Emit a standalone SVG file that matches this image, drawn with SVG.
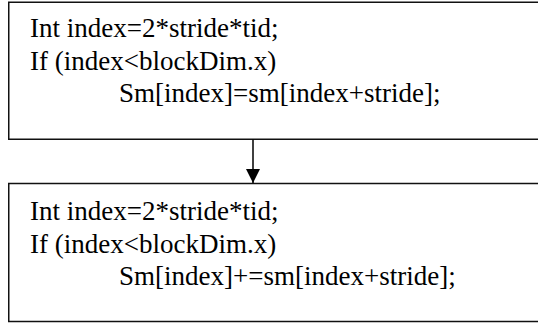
<svg xmlns="http://www.w3.org/2000/svg" width="538" height="324" viewBox="0 0 538 324">
<style>
.box{fill:#fff;stroke:#111;stroke-width:1.5}
.t{font-family:'Liberation Serif','Times New Roman',serif;font-size:27px;fill:#000}
.c{stroke:#000;stroke-width:1.5;fill:none}
</style>
<defs>
<marker id="ah" markerUnits="userSpaceOnUse" markerWidth="14" markerHeight="16" refX="14" refY="7" orient="auto">
<path d="M0,0 L14,7 L0,14 Z" fill="#000"/>
</marker>
</defs>
<rect width="538" height="324" fill="#fff"/>
<g id="node1">
<rect class="box" x="8.75" y="2.25" width="540" height="137"/>
<text class="t" x="30" y="37">Int index=2*stride*tid;</text>
<text class="t" x="30" y="69.5">If (index&lt;blockDim.x)</text>
<text class="t" x="119" y="102">Sm[index]=sm[index+stride];</text>
</g>
<g id="node2">
<rect class="box" x="8.75" y="183.5" width="540" height="138"/>
<text class="t" x="30" y="220">Int index=2*stride*tid;</text>
<text class="t" x="30" y="252.5">If (index&lt;blockDim.x)</text>
<text class="t" x="119" y="285">Sm[index]+=sm[index+stride];</text>
</g>
<g id="connectors">
<line class="c" x1="253" y1="139.5" x2="253" y2="183" marker-end="url(#ah)"/>
</g>
</svg>
